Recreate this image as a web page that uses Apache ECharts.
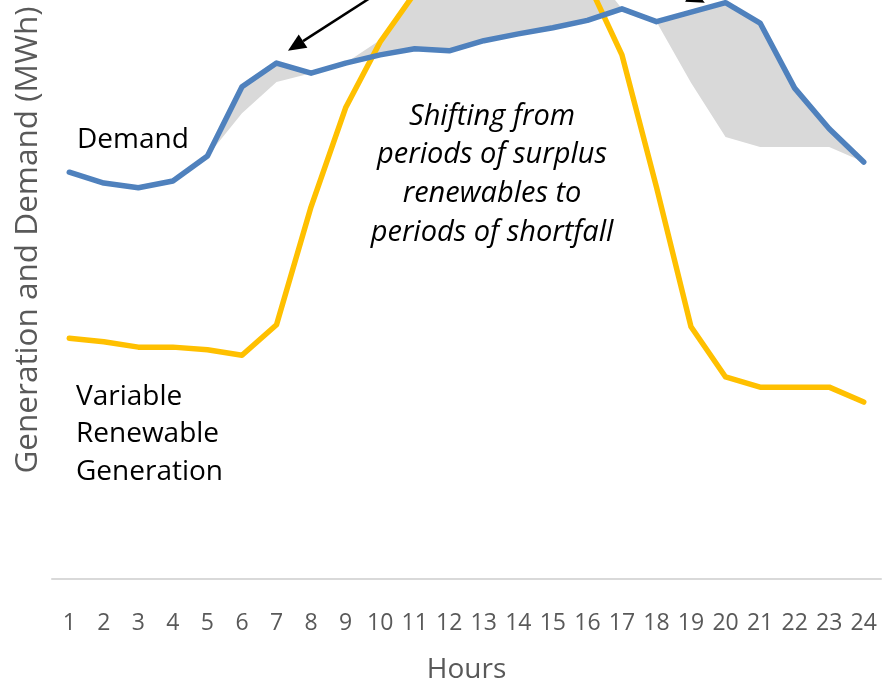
<!DOCTYPE html>
<html>
<head>
<meta charset="utf-8">
<script src="https://cdn.jsdelivr.net/npm/echarts@6/dist/echarts.min.js"></script>
<style>
  html, body { margin: 0; padding: 0; background: #fff; }
  #chart { width: 882px; height: 684px; }
</style>
</head>
<body>
<div id="chart"></div>
<script>
// hourly profile, values (top of the plot is cropped)
const hours = ['1', '2', '3', '4', '5', '6', '7', '8', '9', '10', '11', '12',
  '13', '14', '15', '16', '17', '18', '19', '20', '21', '22', '23', '24'];
const demand = [60.0, 58.4, 57.7, 58.7, 62.4, 72.6, 76.1, 74.6, 76.1, 77.3, 78.2, 77.9,
  79.4, 80.4, 81.3, 82.4, 84.1, 82.2, 83.6, 85.0, 82.0, 72.4, 66.4, 61.5];
const renewables = [35.5, 35.0, 34.2, 34.2, 33.8, 33.0, 37.5, 54.9, 69.5, 79.2, 86.4, 93.0,
  97.0, 98.0, 95.0, 88.2, 77.3, 57.8, 37.2, 29.8, 28.3, 28.3, 28.3, 26.1];
const shiftedDemand = [60.0, 58.4, 57.7, 58.7, 62.4, 68.7, 73.3, 74.6, 76.1, 79.5, 87.2, 92.0,
  95.0, 96.0, 93.0, 90.6, 84.1, 82.2, 73.2, 65.2, 63.7, 63.7, 63.7, 61.5];
// annotation arrows: [from, to] as [hour index, MWh]
const arrows = [
  [[9.96, 89.8], [6.33, 77.9]],
  [[14.8, 94.2], [18.4, 85.0]]
];

// gray band between demand and shifted demand
const bandBase = demand.map((d, i) => Math.min(d, shiftedDemand[i]));
const bandSize = demand.map((d, i) => Math.abs(shiftedDemand[i] - d));

const chart = echarts.init(document.getElementById('chart'));
const font = '"Open Sans", "Noto Sans", sans-serif';

const option = {
  animation: false,
  grid: { left: 52, right: 1, top: 0, bottom: 105, containLabel: false, outerBoundsMode: 'none' },
  xAxis: {
    type: 'category',
    data: hours,
    boundaryGap: true,
    axisLine: { lineStyle: { color: '#d9d9d9', width: 2 } },
    axisTick: { show: false },
    axisLabel: { color: '#595959', fontSize: 23, fontFamily: font, margin: 33, interval: 0 },
    name: 'Hours',
    nameLocation: 'middle',
    nameGap: 77,
    nameTextStyle: { color: '#595959', fontSize: 28, fontFamily: font }
  },
  yAxis: {
    type: 'value',
    min: 0,
    max: 85.4, // the picture is cut off here
    axisLine: { show: false },
    axisTick: { show: false },
    axisLabel: { show: false },
    splitLine: { show: false }
  },
  series: [
    {
      type: 'line', stack: 'band', data: bandBase, symbol: 'none',
      lineStyle: { opacity: 0 }, silent: true
    },
    {
      type: 'line', stack: 'band', data: bandSize, symbol: 'none',
      lineStyle: { opacity: 0 }, areaStyle: { color: '#d9d9d9', opacity: 1 }, silent: true
    },
    {
      name: 'Variable Renewable Generation',
      type: 'line', data: renewables, symbol: 'none',
      lineStyle: { color: '#ffc000', width: 5.5, cap: 'round', join: 'round' }
    },
    {
      name: 'Demand',
      type: 'line', data: demand, symbol: 'none',
      lineStyle: { color: '#4f81bd', width: 5.5, cap: 'round', join: 'round' }
    }
  ],
  graphic: [
    {
      type: 'text', x: 28, y: 240, rotation: Math.PI / 2,
      style: {
        text: 'Generation and Demand (MWh)', fill: '#595959',
        font: '31.5px ' + font, align: 'center', verticalAlign: 'middle'
      }
    },
    {
      type: 'text', left: 77, top: 126,
      style: { text: 'Demand', fill: '#000', font: '28px ' + font }
    },
    {
      type: 'text', left: 76, top: 378,
      style: {
        text: 'Variable\nRenewable\nGeneration', fill: '#000',
        font: '28px ' + font, lineHeight: 37.5
      }
    },
    {
      type: 'text', x: 492, y: 97,
      style: {
        text: 'Shifting from\nperiods of surplus\nrenewables to\nperiods of shortfall',
        fill: '#000', font: 'italic 29px ' + font, lineHeight: 38.7, align: 'center'
      }
    }
  ]
};

chart.setOption(option);

// category axis rounds indices, so interpolate between neighbouring hours
function toPixel(pt) {
  const i0 = Math.floor(pt[0]);
  const f = pt[0] - i0;
  const a = chart.convertToPixel({ gridIndex: 0 }, [i0, pt[1]]);
  const b = chart.convertToPixel({ gridIndex: 0 }, [i0 + 1, pt[1]]);
  return [a[0] + (b[0] - a[0]) * f, a[1]];
}

// arrows placed through the chart's own scales
const arrowGraphics = [];
arrows.forEach(a => {
  const p0 = toPixel(a[0]);
  const p1 = toPixel(a[1]);
  const dx = p1[0] - p0[0], dy = p1[1] - p0[1];
  const len = Math.sqrt(dx * dx + dy * dy);
  const ux = dx / len, uy = dy / len;
  const headLen = 18, headHalf = 8;
  const bx = p1[0] - ux * headLen, by = p1[1] - uy * headLen;
  arrowGraphics.push({
    type: 'line', silent: true,
    shape: { x1: p0[0], y1: p0[1], x2: bx, y2: by },
    style: { stroke: '#000', lineWidth: 2.5 }
  });
  arrowGraphics.push({
    type: 'polygon', silent: true,
    shape: { points: [
      [p1[0], p1[1]],
      [bx - uy * headHalf, by + ux * headHalf],
      [bx + uy * headHalf, by - ux * headHalf]
    ] },
    style: { fill: '#000' }
  });
});
chart.setOption({ graphic: option.graphic.concat(arrowGraphics) });
</script>
</body>
</html>
